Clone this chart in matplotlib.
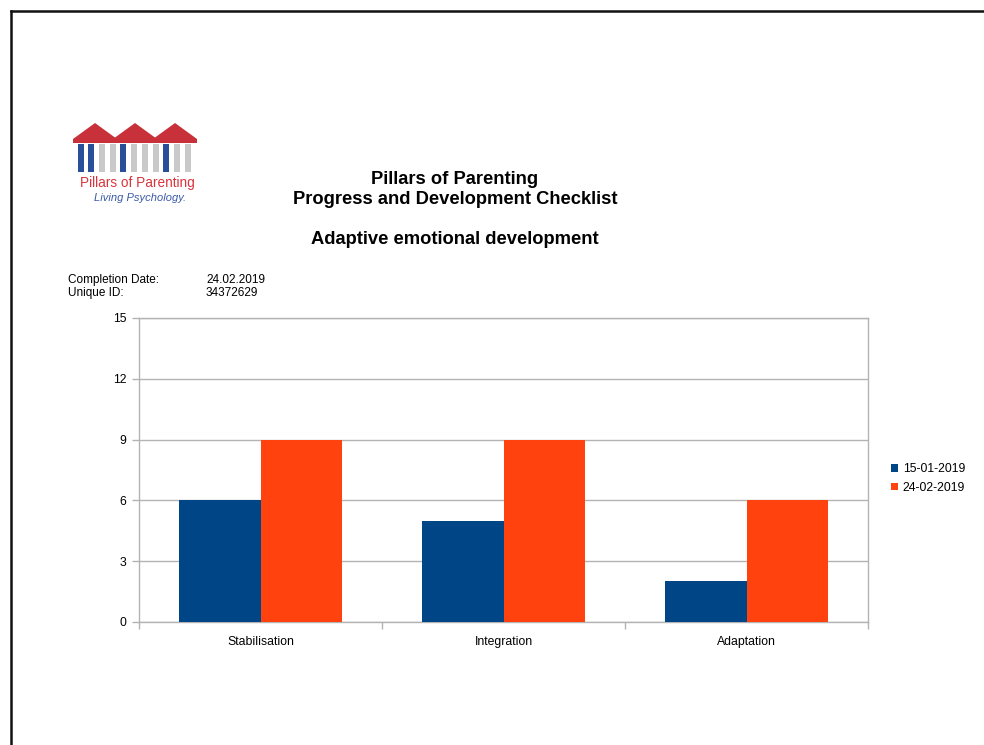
import numpy as np
import matplotlib
matplotlib.use("Agg")
import matplotlib.pyplot as plt
from matplotlib.patches import Polygon, Rectangle

plt.rcParams['font.family'] = ['Liberation Sans', 'DejaVu Sans']

categories = ['Stabilisation', 'Integration', 'Adaptation']
series_names = ['15-01-2019', '24-02-2019']
values_first = [6, 5, 2]
values_second = [9, 9, 6]
y_ticks = [0, 3, 6, 9, 12, 15]
colors = ['#004586', '#ff420e']
grid_col = '#b3b3b3'

fig = plt.figure(figsize=(9.84, 7.45), dpi=100)

# page layer in pixel coordinates
page = fig.add_axes([0, 0, 1, 1])
page.set_xlim(0, 984)
page.set_ylim(745, 0)
page.axis('off')

# page border (cropped page)
page.plot([11, 984], [11, 11], color='#111111', lw=1.8)
page.plot([11, 11], [11, 745], color='#111111', lw=1.8)

# logo: three roofs with pillars
for cx in [95, 135, 175]:
    page.add_patch(Polygon([[cx - 22, 143], [cx - 22, 139], [cx, 123],
                            [cx + 22, 139], [cx + 22, 143]],
                           closed=True, color='#c8303a', lw=0))
pillar_x = [78, 88, 99, 110, 120, 131, 142, 153, 163, 174, 185]
pillar_c = ['#2a4f9a', '#2a4f9a', '#c9c9c9', '#c9c9c9', '#2a4f9a', '#c9c9c9',
            '#c9c9c9', '#c9c9c9', '#2a4f9a', '#c9c9c9', '#c9c9c9']
for px, pc in zip(pillar_x, pillar_c):
    page.add_patch(Rectangle((px, 144), 6, 28, color=pc, lw=0))
page.text(137, 183, 'Pillars of Parenting', color='#d9343c', fontsize=9.8,
          ha='center', va='center')
page.text(140, 198, 'Living Psychology.', color='#3a5aa8', fontsize=8,
          style='italic', ha='center', va='center')

# titles
page.text(455, 179, 'Pillars of Parenting', fontsize=13.2, fontweight='bold',
          ha='center', va='center')
page.text(455, 199, 'Progress and Development Checklist', fontsize=13.2,
          fontweight='bold', ha='center', va='center')
page.text(455, 239, 'Adaptive emotional development', fontsize=13.2,
          fontweight='bold', ha='center', va='center')

# info block
page.text(68, 280, 'Completion Date:', fontsize=8.5, ha='left', va='center')
page.text(206, 280, '24.02.2019', fontsize=8.5, ha='left', va='center')
page.text(68, 293, 'Unique ID:', fontsize=8.5, ha='left', va='center')
page.text(206, 293, '34372629', fontsize=8.5, ha='left', va='center')

# chart
ax = fig.add_axes([139 / 984, 1 - 622 / 745, (868 - 139) / 984, (622 - 318) / 745])
x = np.arange(len(categories))
w = 0.335
ax.bar(x - w / 2, values_first, w, color=colors[0], label=series_names[0], zorder=3)
ax.bar(x + w / 2, values_second, w, color=colors[1], label=series_names[1], zorder=3)

ax.set_xlim(-0.5, 2.5)
ax.set_ylim(0, 15)
ax.set_yticks(y_ticks)
ax.set_xticks(x)
ax.set_xticklabels(categories)
ax.set_xticks([-0.5, 0.5, 1.5, 2.5], minor=True)
ax.tick_params(axis='x', which='major', length=0, labelsize=8.8, pad=10)
ax.tick_params(axis='x', which='minor', length=5, color=grid_col, width=1)
ax.tick_params(axis='y', length=5, color=grid_col, width=1, labelsize=8.8, pad=4)
ax.yaxis.grid(True, color=grid_col, lw=1, zorder=0)
for s in ax.spines.values():
    s.set_color(grid_col)
    s.set_linewidth(1)

leg = ax.legend(loc='center left', bbox_to_anchor=(1.016, 0.472), frameon=False,
                fontsize=8.8, handlelength=0.6, handleheight=0.6,
                handletextpad=0.4, labelspacing=0.55)

fig.savefig('out.png', dpi=100)
